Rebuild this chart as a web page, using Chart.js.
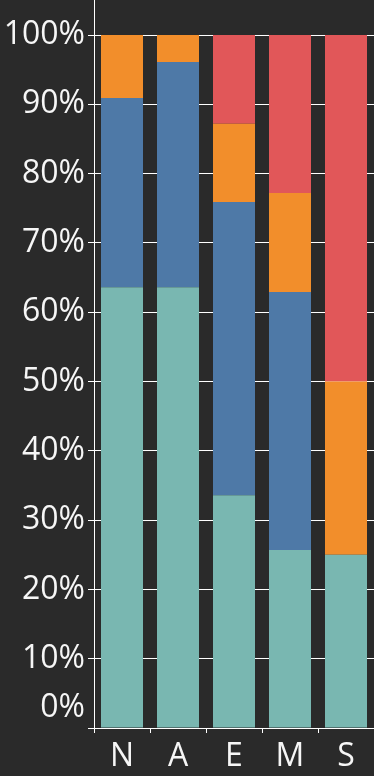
<!DOCTYPE html>
<html>
<head>
<meta charset="utf-8">
<script src="https://cdn.jsdelivr.net/npm/chart.js@4.4.1/dist/chart.umd.min.js"></script>
<style>
    html, body { margin: 0; padding: 0; background: #2a2a2a; }
    #wrap { width: 374px; height: 776px; position: relative; }
</style>
</head>
<body>
<div id="wrap"><canvas id="stackChart"></canvas></div>
<script>
// ===============================
//  DATA (percent of each bar)
// ===============================
const categories = ['N', 'A', 'E', 'M', 'S'];
const tealValues   = [63.6, 63.6, 33.6, 25.7, 25.0];
const blueValues   = [27.3, 32.5, 42.3, 37.2, 0];
const orangeValues = [9.1, 3.9, 11.3, 14.3, 25.0];
const redValues    = [0, 0, 12.8, 22.8, 50.0];
const yTicks = [0, 10, 20, 30, 40, 50, 60, 70, 80, 90, 100];

const labelFont = "32px 'Open Sans'";
const textColor = '#f6f6f6';

// draws the y labels (0% sits a bit higher, like the original) and stretches the axis line up
const yLabelPlugin = {
    id: 'yLabels',
    afterDraw(chart) {
        const ctx = chart.ctx;
        const y = chart.scales.y;
        ctx.save();
        ctx.strokeStyle = '#ffffff';
        ctx.lineWidth = 1;
        ctx.beginPath();
        ctx.moveTo(y.right + 0.5, 0);
        ctx.lineTo(y.right + 0.5, chart.chartArea.top);
        ctx.stroke();

        ctx.font = labelFont;
        ctx.fillStyle = textColor;
        ctx.textAlign = 'right';
        ctx.textBaseline = 'middle';
        yTicks.forEach(v => {
            let py = y.getPixelForValue(v);
            if (v === 0) py -= 20;
            ctx.fillText(v + '%', 85, py);
        });
        ctx.restore();
    }
};

const ctx = document.getElementById('stackChart');
new Chart(ctx, {
    type: 'bar',
    data: {
        labels: categories,
        datasets: [
            { label: 'Teal', data: tealValues, backgroundColor: '#79b7b1', borderWidth: 0 },
            { label: 'Blue', data: blueValues, backgroundColor: '#4e79a7', borderWidth: 0 },
            { label: 'Orange', data: orangeValues, backgroundColor: '#f28e2b', borderWidth: 0 },
            { label: 'Red', data: redValues, backgroundColor: '#e15759', borderWidth: 0 }
        ]
    },
    options: {
        responsive: true,
        maintainAspectRatio: false,
        animation: false,
        devicePixelRatio: 1,
        layout: { padding: { top: 35, right: 0, left: 0, bottom: 0 } },
        datasets: { bar: { barPercentage: 0.75, categoryPercentage: 1 } },
        plugins: { legend: { display: false }, tooltip: { enabled: false } },
        scales: {
            x: {
                stacked: true,
                border: { color: '#ffffff', width: 1 },
                grid: { display: true, drawOnChartArea: false, color: '#ffffff', tickLength: 5, offset: true },
                ticks: { color: textColor, font: { family: 'Open Sans', size: 32 }, padding: 5, maxRotation: 0 },
                afterFit(scale) { scale.height = 48; }
            },
            y: {
                stacked: true,
                min: 0,
                max: 100,
                border: { color: '#ffffff', width: 1 },
                grid: { color: '#ffffff', lineWidth: 1, tickLength: 6, z: -1 },
                ticks: { display: false, stepSize: 10 },
                afterFit(scale) { scale.width = 94; }
            }
        }
    },
    plugins: [yLabelPlugin]
});
</script>
</body>
</html>
